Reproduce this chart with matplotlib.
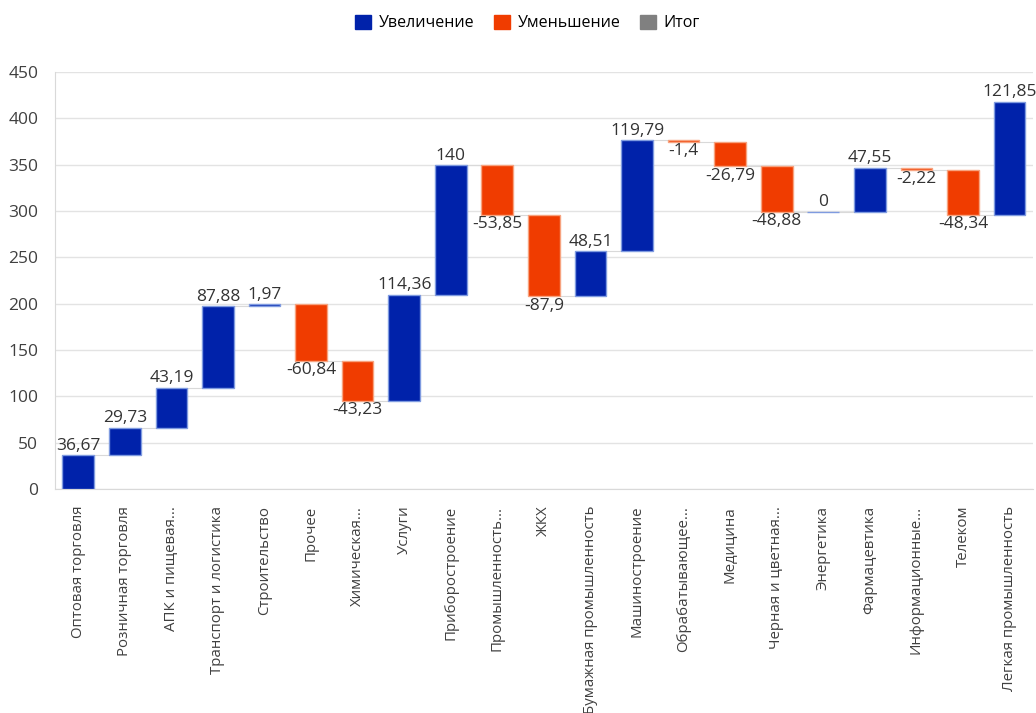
import matplotlib.pyplot as plt
from matplotlib.patches import Patch
import numpy as np

plt.rcParams['font.family'] = ['Open Sans', 'DejaVu Sans']

categories = ['Оптовая торговля', 'Розничная торговля', 'АПК и пищевая...',
              'Транспорт и логистика', 'Строительство', 'Прочее', 'Химическая...',
              'Услуги', 'Приборостроение', 'Промышленность...', 'ЖКХ',
              'Бумажная промышленность', 'Машиностроение', 'Обрабатывающее...',
              'Медицина', 'Черная и цветная...', 'Энергетика', 'Фармацевтика',
              'Информационные...', 'Телеком', 'Легкая промышленность']
changes = [36.67, 29.73, 43.19, 87.88, 1.97, -60.84, -43.23, 114.36, 140,
           -53.85, -87.9, 48.51, 119.79, -1.4, -26.79, -48.88, 0, 47.55,
           -2.22, -48.34, 121.85]

blue = '#0022aa'
orange = '#f03c00'
gray = '#808080'

changes = np.array(changes)
ends = np.cumsum(changes)
starts = ends - changes
x = np.arange(len(changes))

fig, ax = plt.subplots(figsize=(10.36, 7.13), dpi=100)
fig.subplots_adjust(left=0.053, right=0.997, bottom=0.314, top=0.899)

colors = [blue if v >= 0 else orange for v in changes]
edges = ['#7f9be0' if v >= 0 else '#f7a37f' for v in changes]
ax.bar(x, changes, bottom=starts, width=0.68, color=colors,
       edgecolor=edges, linewidth=1, zorder=3)

# connectors
for i in range(len(x) - 1):
    ax.plot([x[i] + 0.34, x[i + 1] - 0.34], [ends[i], ends[i]],
            color='#d9d9d9', lw=0.8, zorder=2)

for i, v in enumerate(changes):
    txt = f'{v:g}'.replace('.', ',')
    if v >= 0:
        ax.annotate(txt, (x[i], ends[i]), xytext=(0, 1), textcoords='offset points',
                    ha='center', va='bottom', fontsize=12.5, color='#333333')
    else:
        ax.annotate(txt, (x[i], ends[i]), xytext=(0, -1), textcoords='offset points',
                    ha='center', va='top', fontsize=12.5, color='#333333')

ax.set_xlim(-0.5, len(x) - 0.5)
ax.set_ylim(0, 450)
ax.set_yticks(np.arange(0, 451, 50))
ax.yaxis.grid(True, color='#e3e3e3', lw=1)
ax.set_axisbelow(True)
ax.set_xticks(x)
ax.set_xticklabels(categories, rotation=90, fontsize=10.8, color='#404040')
ax.tick_params(axis='y', labelsize=12.5, colors='#404040', length=0, pad=12)
ax.tick_params(axis='x', length=0, pad=12)
for s in ['top', 'right']:
    ax.spines[s].set_visible(False)
ax.spines['left'].set_color('#d9d9d9')
ax.spines['bottom'].set_color('#d9d9d9')

handles = [Patch(color=blue, label='Увеличение'),
           Patch(color=orange, label='Уменьшение'),
           Patch(color=gray, label='Итог')]
fig.legend(handles=handles, loc='center', bbox_to_anchor=(0.509, 0.968), ncol=3,
           frameon=False, fontsize=11.5, handlelength=1, handleheight=1,
           columnspacing=1.2, handletextpad=0.5)

plt.savefig('out.png', dpi=100)
